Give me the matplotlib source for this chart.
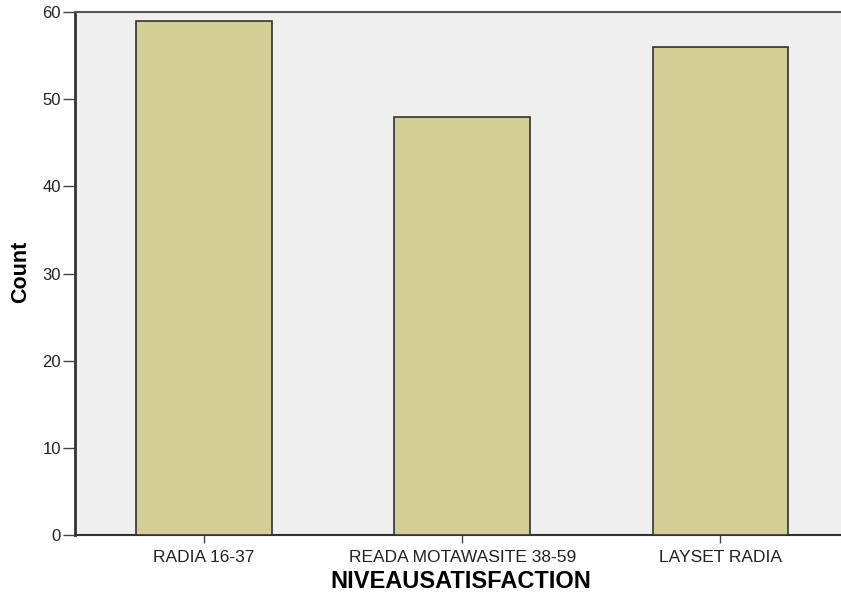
import matplotlib.pyplot as plt

categories = ["RADIA 16-37", "READA MOTAWASITE 38-59", "LAYSET RADIA"]
counts = [59, 48, 56]
yticks = [0, 10, 20, 30, 40, 50, 60]

plt.rcParams['font.family'] = ['Liberation Sans', 'DejaVu Sans']

W, H = 841, 600
fig = plt.figure(figsize=(W / 100, H / 100), dpi=100)
ax_w = 1.0 - 75 / W + 0.01
ax = fig.add_axes([75 / W, 65 / H, ax_w, 523 / H])
ax.set_facecolor('#efefef')

x = range(len(categories))
ax.bar(x, counts, width=0.525, color='#d2ce96', edgecolor='#333333', linewidth=1.2, zorder=3)

ax.set_xlim(-0.5, 2.5)
ax.set_ylim(0, 60)
ax.set_yticks(yticks)
ax.set_xticks(list(x))
ax.set_xticklabels(categories, fontsize=12.5, color='#222222')
ax.tick_params(axis='y', labelsize=12, length=9, width=1, pad=1, color='#444444', labelcolor='#222222')
ax.tick_params(axis='x', length=6, width=1, color='#444444', pad=5)

ax.spines['right'].set_visible(False)
ax.spines['left'].set_linewidth(2)
ax.spines['left'].set_color('#333333')
ax.spines['bottom'].set_linewidth(1.5)
ax.spines['bottom'].set_color('#333333')
ax.spines['top'].set_linewidth(1.5)
ax.spines['top'].set_color('#555555')

fig.text(21 / W, 1 - 272 / H, 'Count', rotation=90, fontsize=15.5, fontweight='bold',
         ha='center', va='center')
fig.text(461 / W, 1 - 582 / H, 'NIVEAUSATISFACTION', fontsize=17, fontweight='bold',
         ha='center', va='center')

fig.savefig('out.png', dpi=100)
